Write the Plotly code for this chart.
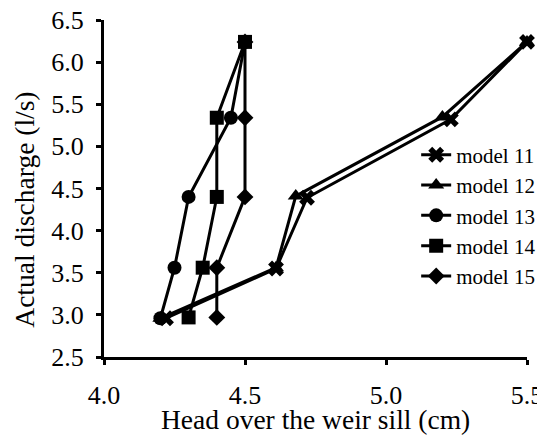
import plotly.graph_objects as go

series_names = ["model 11", "model 12", "model 13", "model 14", "model 15"]
head_m11 = [4.22, 4.61, 4.72, 5.23, 5.50]
q_m11 = [2.96, 3.55, 4.39, 5.32, 6.24]
head_m12 = [4.20, 4.61, 4.68, 5.20, 5.50]
q_m12 = [2.96, 3.56, 4.41, 5.35, 6.24]
head_m13 = [4.20, 4.25, 4.30, 4.45, 4.50]
q_m13 = [2.96, 3.56, 4.40, 5.34, 6.24]
head_m14 = [4.30, 4.35, 4.40, 4.40, 4.50]
q_m14 = [2.97, 3.56, 4.40, 5.34, 6.24]
head_m15 = [4.40, 4.40, 4.50, 4.50, 4.50]
q_m15 = [2.97, 3.56, 4.40, 5.34, 6.24]

x_ticks = [4.0, 4.5, 5.0, 5.5]
y_ticks = [2.5, 3.0, 3.5, 4.0, 4.5, 5.0, 5.5, 6.0, 6.5]

x_title = "Head over the weir sill (cm)"
y_title = "Actual discharge (l/s)"

symbols = ["x", "triangle-up", "circle", "square", "diamond"]
sizes = [14, 14, 14, 14, 13]
xs = [head_m11, head_m12, head_m13, head_m14, head_m15]
ys = [q_m11, q_m12, q_m13, q_m14, q_m15]

font_family = "Liberation Serif"

fig = go.Figure()
for name, x, y, sym, sz in zip(series_names, xs, ys, symbols, sizes):
    fig.add_trace(go.Scatter(
        x=x, y=y, name=name, mode="lines+markers",
        line=dict(color="black", width=3),
        marker=dict(symbol=sym, size=sz, color="black",
                    line=dict(width=0, color="black")),
        cliponaxis=False,
    ))

fig.update_layout(
    width=545, height=442,
    margin=dict(l=96, r=26, t=12, b=93),
    paper_bgcolor="white", plot_bgcolor="white",
    font=dict(family=font_family, color="black", size=26),
    showlegend=True,
    legend=dict(x=0.738, y=0.66, xanchor="left", yanchor="top",
                font=dict(size=21, family=font_family),
                bgcolor="rgba(0,0,0,0)", borderwidth=0,
                itemwidth=30, tracegroupgap=0),
    xaxis=dict(range=[4.0, 5.5], tickvals=x_ticks, tickformat=".1f",
               showgrid=False, zeroline=False, showline=True,
               linecolor="black", linewidth=3, ticks="outside",
               ticklen=5, tickwidth=3, tickcolor="black",
               automargin=False, ticklabelstandoff=8,
               ticklabeloverflow="allow",
               tickfont=dict(size=26, family=font_family)),
    yaxis=dict(range=[2.5, 6.5], tickvals=y_ticks, tickformat=".1f",
               showgrid=False, zeroline=False, showline=True,
               linecolor="black", linewidth=3, ticks="outside",
               ticklen=5, tickwidth=3, tickcolor="black",
               automargin=False, ticklabelstandoff=7,
               ticklabeloverflow="allow",
               tickfont=dict(size=26, family=font_family)),
    annotations=[
        dict(text=x_title, xref="paper", yref="paper", x=0.5, y=-0.185,
             xanchor="center", yanchor="middle", showarrow=False,
             font=dict(size=27.5, family=font_family, color="black")),
        dict(text=y_title, xref="paper", yref="paper", x=-0.19, y=0.436,
             xanchor="center", yanchor="middle", showarrow=False,
             textangle=-90,
             font=dict(size=27.5, family=font_family, color="black")),
    ],
)

fig.write_html("out.html")
